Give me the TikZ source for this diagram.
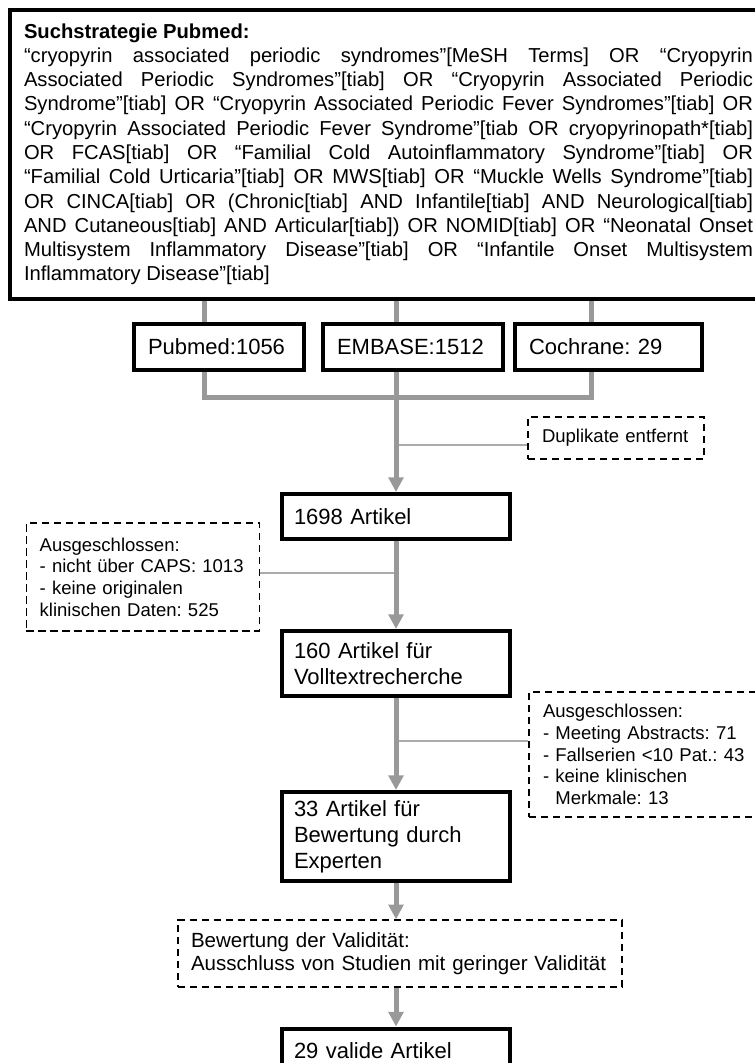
\documentclass[tikz,border=0pt]{standalone}
\usepackage{fontspec}
\setmainfont{Liberation Sans}
\usepackage{tikz}
\usetikzlibrary{arrows.meta,calc,positioning}
\frenchspacing
\definecolor{flow}{HTML}{999999}
\definecolor{twig}{HTML}{ABABAB}
\newcommand{\querysize}{\fontsize{15.15pt}{18.2pt}\selectfont}
\newcommand{\boxsize}{\fontsize{16.5pt}{19.5pt}\selectfont}
\newcommand{\notesize}{\fontsize{13.9pt}{16.3pt}\selectfont}
\newcommand{\checksize}{\fontsize{15.4pt}{17.3pt}\selectfont}
\tikzset{
  querybox/.style={
    draw=black,
    line width=3pt,
    fill=white,
    anchor=north west,
    align=justify,
    font=\querysize,
    text width=546.75pt,
    inner xsep=10.5pt,
    inner ysep=8pt,
    minimum height=216.4pt
  },
  srcbox/.style={
    draw=black,
    line width=3pt,
    fill=white,
    align=left,
    font=\boxsize,
    inner xsep=10.5pt,
    inner ysep=3pt,
    minimum height=34.5pt
  },
  stagebox/.style={
    draw=black,
    line width=3pt,
    fill=white,
    align=left,
    font=\boxsize,
    text width=153pt,
    inner xsep=9pt,
    inner ysep=3pt
  },
  notebox/.style={
    draw=black,
    line width=1.1pt,
    dash pattern=on 5.5pt off 3.5pt,
    fill=white,
    align=left,
    font=\notesize,
    inner ysep=3pt
  },
  flowedge/.style={draw=flow, line width=3.75pt},
  flowarrow/.style={flowedge, -{Triangle[width=11pt,length=11pt]}},
  twigedge/.style={draw=twig, line width=1.2pt}
}

\begin{document}
\begin{tikzpicture}[x=0.75pt,y=-0.75pt]
\path[use as bounding box] (0,0) rectangle (755,1063);
\clip (0,0) rectangle (755,1063);

\node[querybox] (query) at (8,8) {\sloppy\textbf{Suchstrategie Pubmed:}\newline
“cryopyrin associated periodic syndromes”[MeSH Terms] OR “Cryopyrin\linebreak
Associated Periodic Syndromes”[tiab] OR “Cryopyrin Associated Periodic\linebreak
Syndrome”[tiab] OR “Cryopyrin Associated Periodic Fever Syndromes”[tiab] OR\linebreak
“Cryopyrin Associated Periodic Fever Syndrome”[tiab OR cryopyrinopath*[tiab]\linebreak
OR FCAS[tiab] OR “Familial Cold Autoinflammatory Syndrome”[tiab] OR\linebreak
“Familial Cold Urticaria”[tiab] OR MWS[tiab] OR “Muckle Wells Syndrome”[tiab]\linebreak
OR CINCA[tiab] OR (Chronic[tiab] AND Infantile[tiab] AND Neurological[tiab]\linebreak
AND Cutaneous[tiab] AND Articular[tiab]) OR NOMID[tiab] OR “Neonatal Onset\linebreak
Multisystem Inflammatory Disease”[tiab] OR “Infantile Onset Multisystem\linebreak
Inflammatory Disease”[tiab]};

\node[srcbox, text width=106.5pt] (pubmed) at (219,347) {Pubmed:1056};
\node[srcbox, text width=114pt] (embase) at (413,347) {EMBASE:1512};
\node[srcbox, text width=119.25pt] (cochrane) at (608.5,347) {Cochrane: 29};

\node[notebox, text width=111pt, inner xsep=10.5pt, minimum height=31.5pt] (dup) at (616,438) {Duplikate entfernt};
\node[stagebox, minimum height=33.75pt] (found) at (396,516.5) {1698 Artikel};
\node[notebox, text width=155pt, inner xsep=10pt, minimum height=81pt] (dropA) at (143,577) {Ausgeschlossen:\\- nicht über CAPS: 1013\\- keine originalen\\klinischen Daten: 525};
\node[stagebox, minimum height=48.75pt] (fulltext) at (396,663.5) {160 Artikel für\\Volltextrecherche};
\node[notebox, text width=174.75pt, inner xsep=10.5pt, minimum height=93.75pt] (dropB) at (659.5,754.5) {Ausgeschlossen:\\- Meeting Abstracts: 71\\- Fallserien <10 Pat.: 43\\- keine klinischen\\\hphantom{- }Merkmale: 13};
\node[stagebox, minimum height=66.75pt] (expert) at (396,836.5) {33 Artikel für\\Bewertung durch\\Experten};
\node[notebox, font=\checksize, text width=313.5pt, inner xsep=9.75pt, minimum height=50.25pt] (rating) at (400,953.5) {Bewertung der Validität:\\Ausschluss von Studien mit geringer Validität};
\node[stagebox, minimum height=33.75pt] (valid) at (396,1051) {29 valide Artikel};

\coordinate (merge) at (396,397);
\coordinate (pmtap) at ([xshift=-11.25pt]pubmed.north);
\coordinate (cotap) at ([xshift=-12.4pt]cochrane.north);
\coordinate (dupin) at ([yshift=-5.25pt]dup.west);
\coordinate (dropAin) at ([yshift=3pt]dropA.east);
\coordinate (dropBin) at ([yshift=10pt]dropB.west);

\draw[twigedge] (dupin) -- (dupin -| merge);
\draw[twigedge] (dropAin) -- (dropAin -| found);
\draw[twigedge] (dropBin) -- (dropBin -| fulltext);

\draw[flowedge] (pmtap) -- (pmtap |- query.south);
\draw[flowedge] (embase.north -| merge) -- (merge |- query.south);
\draw[flowedge] (cotap) -- (cotap |- query.south);
\draw[flowedge, line join=miter] (pmtap |- pubmed.south) |- (merge) -| (cotap |- cochrane.south);
\draw[flowedge] (embase.south -| merge) -- (merge);
\draw[flowarrow] (merge) -- (found);
\draw[flowarrow] (found) -- (fulltext);
\draw[flowarrow] (fulltext) -- (expert);
\draw[flowarrow] (expert.south) -- (expert.south |- rating.north);
\draw[flowarrow] (rating.south -| valid) -- (valid.north);

\end{tikzpicture}
\end{document}
